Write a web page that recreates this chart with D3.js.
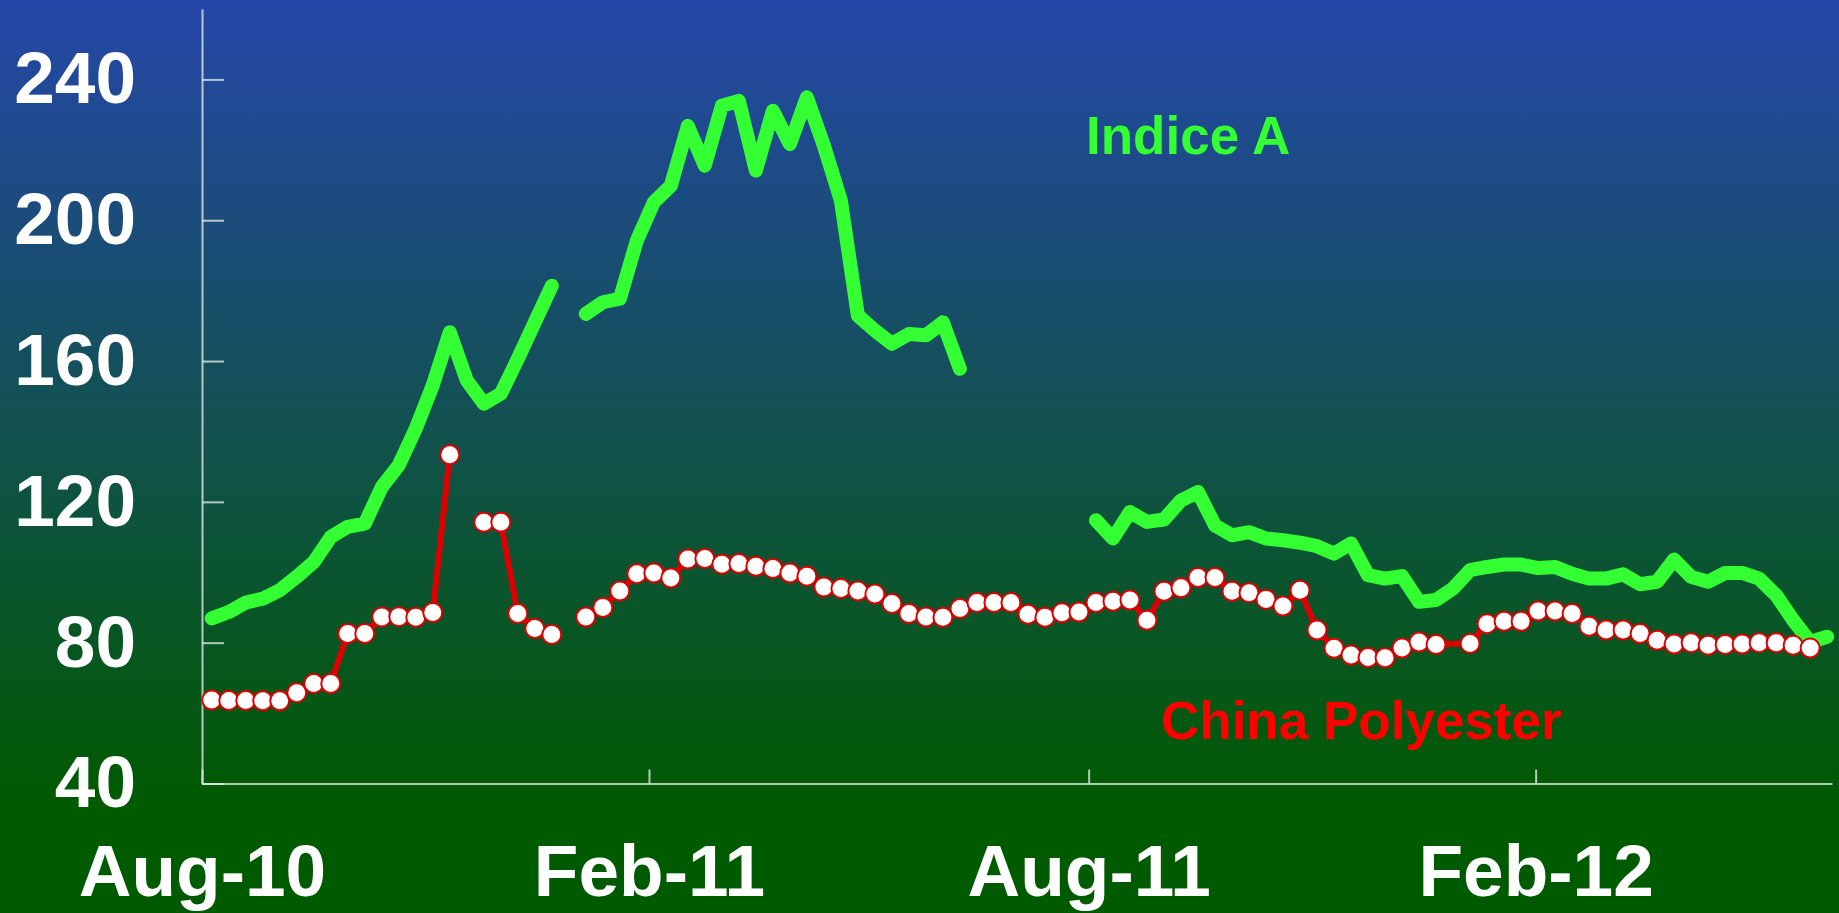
<!DOCTYPE html>
<html>
<head>
<meta charset="utf-8">
<script src="https://cdn.jsdelivr.net/npm/d3@7"></script>
<style>
  html, body { margin: 0; padding: 0; background: #005a00; }
  svg { display: block; }
</style>
</head>
<body>
<div class="chart"></div>
<script>
const width = 1839
const height = 913

// weekly observations, first one on 5 Aug 2010
const firstWeek = new Date(2010, 7, 5)
const weekCount = 96

// Indice A (null = no data)
const indiceA = [
  86.9, 88.7, 91.4, 92.5, 94.9, 98.7, 102.9, 110.0, 112.9, 113.8,
  124.2, 130.4, 140.8, 153.1, 168.2, 154.5, 147.9, 150.7, 160.6, 171.0,
  181.4, null, 173.4, 176.7, 177.7, 194.2, 205.1, 209.8, 226.8, 215.5,
  232.5, 233.9, 214.1, 231.1, 221.6, 234.9, 221.2, 205.6, 172.9, 168.7,
  164.9, 167.7, 167.3, 171.0, 157.8, null, null, null, null, null,
  null, null, 114.8, 109.6, 117.1, 114.3, 115.0, 120.4, 122.8, 113.3,
  110.5, 111.4, 109.6, 109.1, 108.4, 107.4, 105.3, 108.2, 99.2, 98.2,
  98.9, 91.6, 92.1, 95.4, 100.6, 101.5, 102.2, 102.2, 101.2, 101.5,
  99.6, 98.2, 98.2, 99.4, 96.6, 97.3, 103.6, 98.7, 97.3, 99.8,
  99.8, 98.2, 93.5, 86.4, 80.2, 81.7
]

// China Polyester (null = no data)
const chinaPolyester = [
  63.7, 63.6, 63.6, 63.5, 63.5, 65.8, 68.4, 68.4, 82.6, 82.6,
  87.3, 87.4, 87.2, 88.6, 133.4, null, 114.2, 114.2, 88.3, 84.0,
  82.3, null, 87.3, 90.0, 94.7, 99.6, 99.8, 98.4, 103.8, 103.9,
  102.3, 102.5, 101.7, 101.1, 99.8, 98.9, 95.8, 95.4, 94.7, 93.8,
  91.1, 88.3, 87.3, 87.2, 89.7, 91.4, 91.4, 91.4, 88.1, 87.2,
  88.5, 88.7, 91.4, 91.8, 92.1, 86.4, 94.6, 95.6, 98.5, 98.5,
  94.6, 94.2, 92.3, 90.4, 94.9, 83.6, 78.4, 76.5, 75.8, 75.7,
  78.5, 80.2, 79.5, 79.7, 79.8, 85.4, 86.1, 86.1, 89.0, 89.0,
  88.3, 84.7, 83.6, 83.6, 82.6, 80.7, 79.6, 80.0, 79.3, 79.5,
  79.6, 80.0, 80.0, 79.3, 78.5, null
]
// weeks of China Polyester drawn without a marker
const noMarker = [73]

const yTicks = [40, 80, 120, 160, 200, 240]
const xTicks = [new Date(2010, 7, 1), new Date(2011, 1, 1), new Date(2011, 7, 1), new Date(2012, 1, 1)]

const weeks = d3.range(weekCount).map(i => d3.timeDay.offset(firstWeek, 7 * i))

const margin = { top: 9, right: 7, left: 202, bottom: 129.5 }
const innerWidth = width - margin.left - margin.right
const innerHeight = height - margin.top - margin.bottom

const svg = d3.select(".chart")
    .append("svg")
    .attr("width", width)
    .attr("height", height)

// background gradient, blue at top fading to green
const grad = svg.append("defs").append("linearGradient")
    .attr("id", "bg")
    .attr("x1", 0).attr("y1", 0).attr("x2", 0).attr("y2", 1)
grad.append("stop").attr("offset", "0%").attr("stop-color", "#2547a9")
grad.append("stop").attr("offset", "88%").attr("stop-color", "#005a00")
grad.append("stop").attr("offset", "100%").attr("stop-color", "#005a00")

svg.append("rect")
    .attr("width", width)
    .attr("height", height)
    .attr("fill", "url(#bg)")

const xScale = d3.scaleTime()
    .domain([new Date(2010, 7, 1), new Date(2012, 5, 2)])
    .range([0, innerWidth])

const yScale = d3.scaleLinear()
    .domain([40, 260])
    .range([innerHeight, 0])

const g = svg.append("g")
    .attr("transform", `translate(${margin.left}, ${margin.top})`)

// axes
g.append("g")
    .call(d3.axisLeft(yScale).tickValues(yTicks).tickSize(-22).tickSizeOuter(0).tickPadding(66))

g.append("g")
    .attr("transform", `translate(0, ${innerHeight})`)
    .call(d3.axisBottom(xScale).tickValues(xTicks).tickFormat(d3.timeFormat("%b-%y"))
        .tickSize(-14).tickSizeOuter(0).tickPadding(61))

g.selectAll(".domain, .tick line")
    .attr("stroke", "#dfe6e6")
    .attr("stroke-opacity", 0.8)
    .attr("stroke-width", 2)

g.selectAll(".tick text")
    .attr("fill", "white")
    .style("font-family", "'Liberation Sans', Arial, sans-serif")
    .style("font-weight", "bold")
    .style("font-size", "73px")

// Indice A line
const line = d3.line()
    .defined(d => d.v != null)
    .x(d => xScale(d.date))
    .y(d => yScale(d.v))

g.append("path")
    .datum(weeks.map((date, i) => ({ date, v: indiceA[i] })))
    .attr("fill", "none")
    .attr("stroke", "#33ff33")
    .attr("stroke-width", 14)
    .attr("stroke-linejoin", "round")
    .attr("stroke-linecap", "round")
    .attr("d", line)

// China Polyester line + markers
const polyData = weeks.map((date, i) => ({ date, v: chinaPolyester[i], i }))

g.append("path")
    .datum(polyData)
    .attr("fill", "none")
    .attr("stroke", "#dd0000")
    .attr("stroke-width", 6)
    .attr("stroke-linejoin", "round")
    .attr("d", line)

g.selectAll("circle.poly")
    .data(polyData.filter(d => d.v != null && !noMarker.includes(d.i)))
    .enter().append("circle")
        .attr("class", "poly")
        .attr("cx", d => xScale(d.date))
        .attr("cy", d => yScale(d.v))
        .attr("r", 9.5)
        .attr("fill", "white")
        .attr("stroke", "#dd0000")
        .attr("stroke-width", 2)

// series labels
svg.append("text")
    .attr("x", 1086)
    .attr("y", 154)
    .text("Indice A")
    .style("fill", "#33ff33")
    .style("font-family", "'Liberation Sans', Arial, sans-serif")
    .style("font-weight", "bold")
    .style("font-size", "53px")

svg.append("text")
    .attr("x", 1161)
    .attr("y", 739)
    .text("China Polyester")
    .style("fill", "#ff0000")
    .style("font-family", "'Liberation Sans', Arial, sans-serif")
    .style("font-weight", "bold")
    .style("font-size", "53px")
</script>
</body>
</html>
